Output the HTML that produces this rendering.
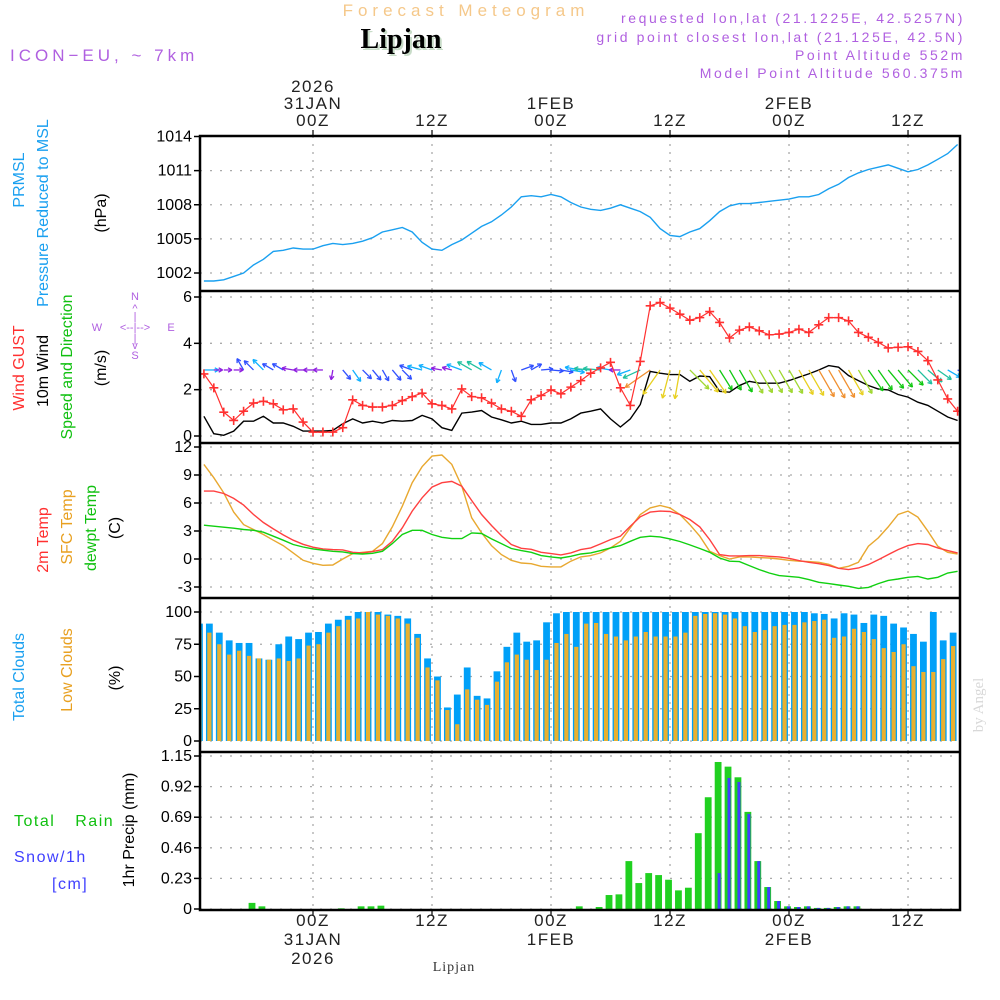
<!DOCTYPE html>
<html><head><meta charset="utf-8"><style>
html,body{margin:0;padding:0;background:#fff;}
svg{display:block;font-family:"Liberation Sans",sans-serif;}
</style></head><body>
<svg id="chart" width="1000" height="1000" viewBox="0 0 1000 1000" xmlns="http://www.w3.org/2000/svg">
<rect x="0" y="0" width="1000" height="1000" fill="#fff"/>
<text x="466" y="16" text-anchor="middle" font-size="17" fill="#f5c88a" letter-spacing="5">Forecast Meteogram</text>
<text x="403" y="50" text-anchor="middle" font-size="28" font-weight="bold" font-family="Liberation Serif,serif" fill="#c8dcc8">Lipjan</text>
<text x="401" y="48" text-anchor="middle" font-size="28" font-weight="bold" font-family="Liberation Serif,serif" fill="#000">Lipjan</text>
<text x="10" y="61" font-size="17" fill="#b060e0" letter-spacing="4">ICON−EU, ~ 7km</text>
<g font-size="14" fill="#b060e0" text-anchor="end" letter-spacing="2.6">
<text x="965" y="23">requested lon,lat (21.1225E, 42.5257N)</text>
<text x="965" y="42">grid point closest lon,lat (21.125E, 42.5N)</text>
<text x="965" y="60">Point Altitude 552m</text>
<text x="965" y="78">Model Point Altitude 560.375m</text>
</g>
<g id="grid"></g>
<g id="marks"></g>
<g id="frame"></g>
<g id="labels"></g>
<g font-size="16">
<text transform="translate(24,180) rotate(-90)" text-anchor="middle" fill="#1aa0f0">PRMSL</text>
<text transform="translate(48,213) rotate(-90)" text-anchor="middle" fill="#1aa0f0">Pressure Reduced to MSL</text>
<text transform="translate(106,213) rotate(-90)" text-anchor="middle" fill="#000">(hPa)</text>
<text transform="translate(24,368) rotate(-90)" text-anchor="middle" fill="#ff3030">Wind GUST</text>
<text transform="translate(48,371) rotate(-90)" text-anchor="middle" fill="#000">10m Wind</text>
<text transform="translate(72,367) rotate(-90)" text-anchor="middle" fill="#10c010">Speed and Direction</text>
<text transform="translate(106,368) rotate(-90)" text-anchor="middle" fill="#000">(m/s)</text>
<text transform="translate(48,540) rotate(-90)" text-anchor="middle" fill="#ff3030">2m Temp</text>
<text transform="translate(72,527) rotate(-90)" text-anchor="middle" fill="#e8a020">SFC Temp</text>
<text transform="translate(96,528) rotate(-90)" text-anchor="middle" fill="#10c010">dewpt Temp</text>
<text transform="translate(120,528) rotate(-90)" text-anchor="middle" fill="#000">(C)</text>
<text transform="translate(24,677) rotate(-90)" text-anchor="middle" fill="#1aa0f0">Total Clouds</text>
<text transform="translate(72,670) rotate(-90)" text-anchor="middle" fill="#e8a020">Low Clouds</text>
<text transform="translate(120,678) rotate(-90)" text-anchor="middle" fill="#000">(%)</text>
<text transform="translate(134,830) rotate(-90)" text-anchor="middle" fill="#000">1hr Precip (mm)</text>
<text x="14" y="826" fill="#10c010" letter-spacing="1.5" word-spacing="14">Total Rain</text>
<text x="14" y="862" fill="#4040ff" letter-spacing="1.5">Snow/1h</text>
<text x="52" y="889" fill="#4040ff" letter-spacing="1.5">[cm]</text>
</g>
<g font-size="11" fill="#b060e0" text-anchor="middle">
<text x="135" y="300">N</text><text x="135" y="312">^</text><text x="135" y="320">|</text>
<text x="97" y="331">W</text><text x="135" y="331">&lt;--|--&gt;</text><text x="171" y="331">E</text>
<text x="135" y="342">|</text><text x="135" y="349">v</text><text x="135" y="359">S</text>
</g>
<text x="454" y="971" text-anchor="middle" font-size="14" font-family="Liberation Serif,serif" fill="#333" letter-spacing="1">Lipjan</text>
<text transform="translate(983,705) rotate(-90)" text-anchor="middle" font-size="15" font-family="Liberation Serif,serif" fill="#d8d8d8">by Angel</text>
</svg>
<script>
// hours from -11 (13Z 30JAN) to 65 (17Z 2FEB), hourly
const pressure = [1001.3,1001.3,1001.4,1001.7,1002.0,1002.7,1003.2,1003.9,1004.0,1004.2,1004.1,1004.1,1004.4,1004.6,1004.5,1004.6,1004.8,1005.1,1005.6,1005.8,1006.0,1005.6,1004.7,1004.1,1004.0,1004.5,1004.9,1005.5,1006.1,1006.5,1007.1,1007.8,1008.7,1008.8,1008.7,1008.9,1008.7,1008.2,1007.8,1007.6,1007.5,1007.7,1008.0,1007.7,1007.4,1006.9,1005.9,1005.3,1005.2,1005.6,1005.9,1006.6,1007.4,1007.9,1008.1,1008.1,1008.2,1008.3,1008.4,1008.5,1008.7,1008.7,1008.9,1009.4,1009.8,1010.4,1010.8,1011.1,1011.3,1011.5,1011.2,1010.9,1011.1,1011.5,1012.0,1012.5,1013.3];
const windGust = [2.68,2.08,1.03,0.67,1.07,1.42,1.5,1.39,1.13,1.17,0.6,0.17,0.17,0.17,0.36,1.56,1.32,1.25,1.25,1.32,1.53,1.7,1.85,1.39,1.32,1.17,2.03,1.7,1.65,1.42,1.17,1.07,0.85,1.56,1.75,1.99,1.82,2.11,2.39,2.71,2.94,3.18,2.08,1.32,3.22,5.62,5.76,5.52,5.26,5.0,5.11,5.37,4.9,4.23,4.57,4.71,4.54,4.37,4.4,4.47,4.61,4.47,4.8,5.11,5.11,4.97,4.47,4.26,4.04,3.8,3.83,3.85,3.65,3.25,2.42,1.6,1.07];
const wind10 = [0.85,0.1,0.03,0.21,0.64,0.64,0.85,0.56,0.56,0.42,0.21,0.21,0.21,0.24,0.53,0.74,0.56,0.64,0.56,0.67,0.64,0.67,0.89,0.74,0.36,0.24,0.99,1.03,1.1,0.82,0.7,0.56,0.64,0.5,0.5,0.56,0.56,0.74,0.99,1.07,1.17,0.74,0.39,0.74,1.36,2.79,2.71,2.65,2.65,2.36,2.59,2.56,1.93,1.89,2.18,2.36,2.28,2.28,2.28,2.39,2.54,2.68,2.85,3.04,2.97,2.61,2.39,2.18,2.03,1.99,1.79,1.68,1.46,1.32,1.07,0.82,0.67];
const windDirTo = [90,90,90,90,330,315,315,300,300,280,270,270,270,190,140,145,135,140,150,140,135,290,285,290,280,285,290,300,300,300,200,160,70,60,85,95,100,100,280,275,275,280,270,250,245,235,215,195,190,135,140,145,148,150,150,150,150,150,150,150,150,150,150,150,150,150,150,145,145,140,140,135,135,130,125,120,115];
const temp2m = [7.27,7.27,7.02,6.49,5.77,4.77,3.91,3.23,2.58,2.01,1.58,1.26,1.08,1.01,0.97,0.72,0.65,0.79,1.01,1.9,3.34,5.13,6.56,7.7,8.17,8.31,7.8,6.27,4.77,3.59,2.51,1.55,1.15,1.04,0.72,0.58,0.44,0.65,1.01,1.19,1.62,2.08,2.44,3.51,4.52,5.02,5.13,5.09,4.77,4.23,3.44,2.08,0.47,0.33,0.33,0.36,0.36,0.29,0.22,0.08,-0.17,-0.35,-0.5,-0.71,-1.0,-1.14,-0.96,-0.6,-0.07,0.47,1.01,1.44,1.65,1.55,1.19,0.9,0.65];
const tempSfc = [10.14,8.71,7.09,5.02,3.69,3.16,2.62,2.01,1.44,0.65,-0.14,-0.46,-0.67,-0.64,0.0,0.58,0.72,0.83,1.65,3.44,5.66,8.17,9.89,11.03,11.14,10.14,7.8,4.41,2.8,1.44,0.47,-0.14,-0.43,-0.5,-0.78,-0.85,-0.85,-0.24,0.22,0.36,0.65,1.19,1.9,3.34,4.77,5.48,5.73,5.48,4.77,3.69,2.44,0.83,0.36,0.0,0.22,0.22,0.15,0.11,0.0,-0.14,-0.24,-0.28,-0.35,-0.57,-1.0,-0.78,-0.35,1.37,2.26,3.44,4.77,5.13,4.48,2.98,1.37,0.72,0.54];
const dewpt = [3.62,3.51,3.41,3.3,3.16,3.08,2.87,2.44,2.01,1.55,1.29,1.08,0.94,0.83,0.76,0.58,0.54,0.61,0.83,1.65,2.62,3.08,3.08,2.62,2.33,2.19,2.19,2.8,2.73,2.15,1.65,1.12,0.9,0.72,0.36,0.22,0.11,0.29,0.54,0.65,0.9,1.19,1.44,1.9,2.33,2.44,2.37,2.15,1.87,1.51,1.12,0.72,0.11,-0.24,-0.28,-0.71,-1.14,-1.5,-1.78,-1.86,-1.96,-2.21,-2.5,-2.64,-2.79,-2.93,-3.15,-3.04,-2.64,-2.29,-2.14,-1.96,-1.86,-2.14,-1.96,-1.5,-1.32];
const totalClouds = [91,91,84,78,76,76,64,63,75,81,79,84,84.5,91,94,97,100,100,100,98,97,95,83,64,50,26,36,57,35,33,54,73,84,77,78,92,99,100,100,100,100,100,100,100,100,100,100,100,100,100,100,100,100,100,100,100,100,100,100,100,100,100,99,98.5,95,99,98,91.5,98,97,91,88,83,77,100,78,84];
const lowClouds = [86,84,75,67,70,66,64,63,64,62,64,74,75,84,89,94,95,100,98,97,95,91,80,57,47,24,13,40,32,28,46,61,67,63,55,63,76,83,73,91,91.5,83,81,78,81,84.5,81,81,81,84,97,98.5,99,98,95,89,84.5,86,89,90,90,92,93,94,80,81,87,84.5,79,72,69,75,58,53.5,53.5,63.5,73.6];
const rain = [0,0,0,0,0,0.046,0.02,0,0,0,0,0,0,0,0.005,0,0.02,0.02,0.025,0,0,0,0,0,0,0,0,0,0,0,0,0,0,0,0,0,0,0,0.02,0,0.015,0.105,0.11,0.36,0.195,0.27,0.255,0.22,0.14,0.16,0.57,0.84,1.105,1.07,0.99,0.73,0.36,0.165,0.06,0.02,0.015,0.02,0.008,0.008,0.015,0.02,0.02,0,0,0,0,0,0,0,0,0,0];
const snow = [0,0,0,0,0,0,0,0,0,0,0,0,0,0,0,0,0,0,0,0,0,0,0,0,0,0,0,0,0,0,0,0,0,0,0,0,0,0,0,0,0,0,0,0,0,0,0,0,0,0,0,0,0.27,0.985,0.955,0.715,0.36,0.165,0.06,0.02,0.015,0.02,0.008,0.008,0.015,0.02,0.02,0,0,0,0,0,0,0,0,0,0];
const pressureTicks = [1014,1011,1008,1005,1002];
const windTicks = [6,4,2,0];
const tempTicks = [12,9,6,3,0,-3];
const cloudTicks = [100,75,50,25,0];
const precipTicks = [1.15,0.92,0.69,0.46,0.23,0];
const timeTicksH = [0,12,24,36,48,60];
const topTimeLabels = [["2026","31JAN","00Z"],["","","12Z"],["","1FEB","00Z"],["","","12Z"],["","2FEB","00Z"],["","","12Z"]];
const bottomTimeLabels = [["00Z","31JAN","2026"],["12Z","",""],["00Z","1FEB",""],["12Z","",""],["00Z","2FEB",""],["12Z","",""]];
const H0 = -11;

const NS="http://www.w3.org/2000/svg";
const X0=200, X1=960;
function xh(h){return 313 + 9.917*h;}
function lin(v0,y0,v1,y1){return v=>y0+(v-v0)*(y1-y0)/(v1-v0);}
const yP=lin(1014,136.5,1002,273);
const yW=lin(6,297,0,436);
const yT=lin(12,447,-3,587);
const yC=lin(100,612,0,741);
const yR=lin(1.15,756,0,909);
const panels=[
 {top:136,bot:291,ticks:pressureTicks,y:yP,name:'pressure',fmt:v=>String(v)},
 {top:291,bot:443,ticks:windTicks,y:yW,name:'wind',fmt:v=>String(v)},
 {top:443,bot:598,ticks:tempTicks,y:yT,name:'temp',fmt:v=>String(v)},
 {top:598,bot:752,ticks:cloudTicks,y:yC,name:'clouds',fmt:v=>String(v)},
 {top:752,bot:910,ticks:precipTicks,y:yR,name:'precip',fmt:v=>String(v)}
];
function mk(tag,attrs,parent){const e=document.createElementNS(NS,tag);for(const k in attrs)e.setAttribute(k,attrs[k]);parent.appendChild(e);return e;}
const grid=document.getElementById('grid'),marks=document.getElementById('marks'),frame=document.getElementById('frame'),labels=document.getElementById('labels');

panels.forEach(p=>{
  p.ticks.forEach(t=>{
    const y=p.y(t);
    const g=mk('line',{x1:X0,x2:X1,y1:y,y2:y,stroke:'#aaa','stroke-width':1.3,'stroke-dasharray':'2,8'},grid);
    
    
    const tk=mk('line',{x1:X0-6,x2:X0,y1:y,y2:y,stroke:'#000','stroke-width':1.5},frame);
    
    
    const lb=mk('text',{x:X0-8,y:y+5,'text-anchor':'end','font-size':16,fill:'#000'},labels);
    lb.textContent=p.fmt(t);
    
    
  });
  timeTicksH.forEach(h=>{
    const v=mk('line',{x1:xh(h),x2:xh(h),y1:p.top,y2:p.bot,stroke:'#aaa','stroke-width':1.3,'stroke-dasharray':'2,6'},grid);
    
    
  });
});
const fr=mk('rect',{x:X0,y:136,width:X1-X0,height:910-136,fill:'none',stroke:'#000','stroke-width':2.5},frame);


[291,443,598,752].forEach(y=>{
  const l=mk('line',{x1:X0,x2:X1,y1:y,y2:y,stroke:'#000','stroke-width':2.5},frame);
  
  
});
timeTicksH.forEach((h,i)=>{
  const x=xh(h);
  mk('line',{x1:x,x2:x,y1:130,y2:136,stroke:'#000','stroke-width':1.2},frame);
  mk('line',{x1:x,x2:x,y1:910,y2:916,stroke:'#000','stroke-width':1.2},frame);
  topTimeLabels[i].forEach((s,j)=>{ if(!s)return;
    const t=mk('text',{x:x,y:92+j*17,'text-anchor':'middle','font-size':17,fill:'#222','letter-spacing':1.5},labels);
    t.textContent=s;
    
    
  });
  bottomTimeLabels[i].forEach((s,j)=>{ if(!s)return;
    const t=mk('text',{x:x,y:926+j*19,'text-anchor':'middle','font-size':17,fill:'#222','letter-spacing':1.5},labels);
    t.textContent=s;
    
    
  });
});

function linePath(arr,yf){return arr.map((v,i)=>(i?'L':'M')+xh(i+H0).toFixed(1)+','+yf(v).toFixed(1)).join('');}
const clip=mk('clipPath',{id:'plotclip'},marks); mk('rect',{x:X0,y:136,width:X1-X0,height:774},clip);
const mg=mk('g',{'clip-path':'url(#plotclip)'},marks);

totalClouds.forEach((v,i)=>{
  const x=xh(i+H0-0.45);
  const b=mk('rect',{x:x-3.4,y:yC(v),width:6.8,height:yC(0)-yC(v),fill:'#00a0f8'},mg);
  
  
});
lowClouds.forEach((v,i)=>{
  const x=xh(i+H0-0.45);
  const b=mk('rect',{x:x-2.1,y:yC(v),width:4.2,height:yC(0)-yC(v),fill:'#e8b030'},mg);
  
  
});
rain.forEach((v,i)=>{ if(v<=0)return;
  const x=xh(i+H0-0.15);
  const b=mk('rect',{x:x-3.4,y:yR(v),width:6.8,height:yR(0)-yR(v),fill:'#20d020'},mg);
  
  
});
snow.forEach((v,i)=>{ if(v<=0)return;
  const x=xh(i+H0-0.15);
  const b=mk('rect',{x:x-0.5,y:yR(v),width:3,height:yR(0)-yR(v),fill:'#4040ff'},mg);
  
  
});
const pl=mk('path',{d:linePath(pressure,yP),fill:'none',stroke:'#1aa0f0','stroke-width':1.4},mg);


[[tempSfc,'#e8a830','sfc-temp-line'],[temp2m,'#ff4040','temp-2m-line'],[dewpt,'#10d010','dewpoint-line']].forEach(([a,c,n])=>{
  const l=mk('path',{d:linePath(a,yT),fill:'none',stroke:c,'stroke-width':1.4},mg);
  
  
});
const wl=mk('path',{d:linePath(wind10,yW),fill:'none',stroke:'#000','stroke-width':1.4},mg);


function windColor(s){
  if(s<0.45)return '#9020e0'; if(s<0.7)return '#3050ff'; if(s<1.0)return '#10b0ff';
  if(s<1.5)return '#20c0a0'; if(s<2.2)return '#10c810'; if(s<2.5)return '#a0d830';
  if(s<2.75)return '#e8d020'; return '#f09030';
}
const baseY=yW(2.85);
wind10.forEach((s,i)=>{
  const x0=xh(i+H0), len=8+8*s, a=windDirTo[i]*Math.PI/180;
  const x1=x0+len*Math.sin(a), y1=baseY-len*Math.cos(a);
  const c=windColor(s);
  const g=mk('g',{stroke:c,'stroke-width':1.3,fill:'none'},mg);
  
  
  mk('line',{x1:x0,y1:baseY,x2:x1,y2:y1},g);
  const ha=4.5, hb=0.5;
  [a+Math.PI-hb,a+Math.PI+hb].forEach(b=>mk('line',{x1:x1,y1:y1,x2:x1+ha*Math.sin(b),y2:y1-ha*Math.cos(b)},g));
});
const gl=mk('path',{d:linePath(windGust,yW),fill:'none',stroke:'#ff3030','stroke-width':1.2},mg);


windGust.forEach((v,i)=>{
  const x=xh(i+H0),y=yW(v);
  const m=mk('path',{d:`M${x-4.5},${y}H${x+4.5}M${x},${y-4.5}V${y+4.5}`,stroke:'#ff3030','stroke-width':1.6},mg);
  
  
});
</script>
</body></html>
